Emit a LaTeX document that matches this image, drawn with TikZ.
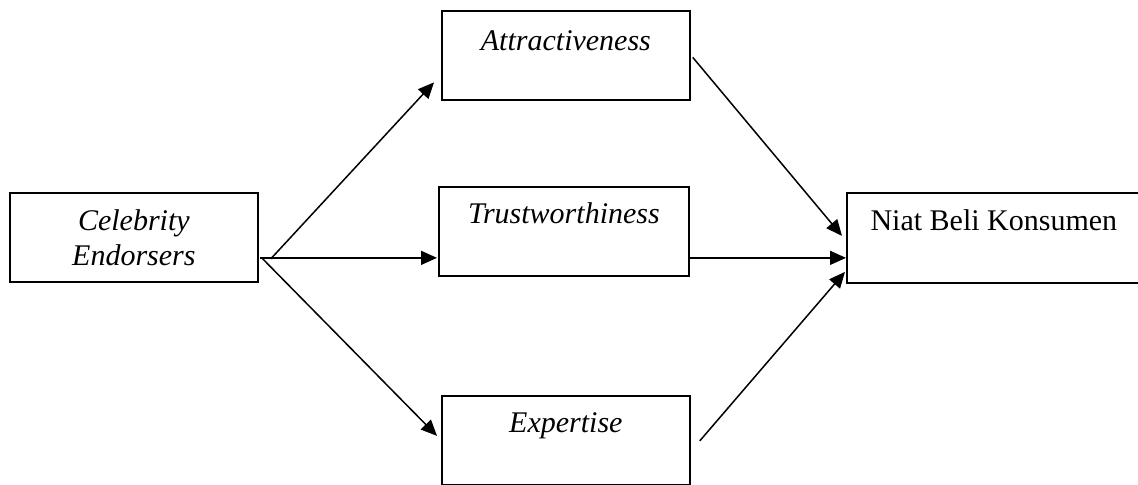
\documentclass[tikz,border=0pt]{standalone}
\usepackage{fontspec}
\setmainfont{Liberation Serif}
\usetikzlibrary{arrows.meta}

\begin{document}
\begin{tikzpicture}[
  x=0.4pt, y=-0.4pt,
  frame/.style={rectangle, draw=black, line width=0.7pt, inner sep=0pt, anchor=north west,
                minimum width=99.2pt, minimum height=35.6pt,
                font=\fontsize{12}{14}\selectfont\itshape},
  box/.style={frame, text height=14.8pt, text depth=20.8pt},
  link/.style={line width=0.6pt, -{Triangle[length=6.4pt, width=5.6pt]}}
]
  \useasboundingbox (0,0) rectangle (1138,485);

  % ── Boxes ──────────────────────────────────────────────────────────────
  \node[frame, align=center] (celeb)  at (  9,192) {Celebrity\\Endorsers};
  \node[box, text depth=18.8pt] (attr) at (441, 10) {Attractiveness};
  \node[box, minimum width=100pt] (trust) at (438,186) {Trustworthiness};
  \node[box]                  (expert) at (441,395) {Expertise};
  \node[box, minimum width=117.6pt, text height=15.2pt, text depth=20.8pt,
        font=\fontsize{12}{14}\selectfont] (niat) at (846,192) {Niat Beli Konsumen};

  % ── Celebrity Endorsers → dimensions ───────────────────────────────────
  \draw[link] ([shift={(12,21.5)}]celeb.east) -- ([shift={(-7,27)}]attr.west);
  \draw[link] ([shift={(1,20.5)}]celeb.east)  -- ([shift={(-1,26.5)}]trust.west);
  \draw[link] ([shift={(3,20.5)}]celeb.east)  -- ([shift={(-4,-4.5)}]expert.west);

  % ── dimensions → Niat Beli Konsumen ────────────────────────────────────
  \draw[link] ([shift={(2,2)}]attr.east)      -- ([shift={(-4,-2)}]niat.west);
  \draw[link] ([shift={(0,26.5)}]trust.east)  -- ([shift={(0,20)}]niat.west);
  \draw[link] ([shift={(9,0.5)}]expert.east)  -- ([shift={(-1,34)}]niat.west);
\end{tikzpicture}
\end{document}
